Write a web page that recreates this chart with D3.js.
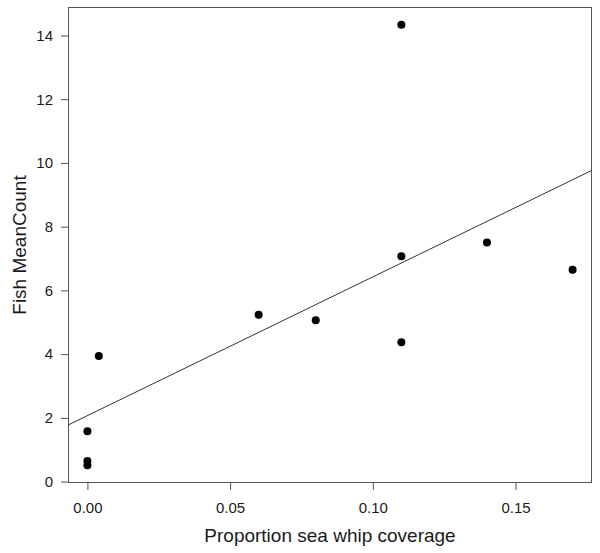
<!DOCTYPE html>
<html>
<head>
<meta charset="utf-8">
<script src="https://cdn.jsdelivr.net/npm/d3@7"></script>
<style>
  html, body { margin: 0; padding: 0; background: #fff; }
  svg { display: block; }
  text { font-family: "Liberation Sans", Arial, Helvetica, sans-serif; fill: #1a1a1a; }
</style>
</head>
<body>
<svg id="chart" width="600" height="553"></svg>
<script>
// Data
const coverage = [0, 0, 0, 0.004, 0.06, 0.08, 0.11, 0.11, 0.11, 0.14, 0.17];
const meanCount = [0.51, 0.65, 1.58, 3.94, 5.24, 5.06, 14.34, 7.07, 4.37, 7.5, 6.65];
const xTicks = [0, 0.05, 0.10, 0.15];
const yTicks = [0, 2, 4, 6, 8, 10, 12, 14];
const xTitle = "Proportion sea whip coverage";
const yTitle = "Fish MeanCount";

const W = 600, H = 553;
const box = { left: 68, top: 7, right: 592, bottom: 483 };

const svg = d3.select("#chart");

// R-style 4% axis extension
function pad(ext) { const r = ext[1] - ext[0]; return [ext[0] - 0.04 * r, ext[1] + 0.04 * r]; }
const x = d3.scaleLinear().domain(pad(d3.extent(coverage))).range([box.left, box.right]);
const y = d3.scaleLinear().domain(pad(d3.extent(meanCount))).range([box.bottom, box.top]);

// Least-squares fit
const mx = d3.mean(coverage), my = d3.mean(meanCount);
let sxy = 0, sxx = 0;
coverage.forEach((v, i) => { sxy += (v - mx) * (meanCount[i] - my); sxx += (v - mx) * (v - mx); });
const slope = sxy / sxx, intercept = my - slope * mx;

// Plot box
svg.append("rect")
  .attr("x", box.left + 0.5).attr("y", box.top + 0.5)
  .attr("width", box.right - box.left - 1).attr("height", box.bottom - box.top - 1)
  .attr("fill", "none").attr("stroke", "#555").attr("stroke-width", 1);

// Axes
const xAxis = svg.append("g")
  .attr("transform", `translate(0,${box.bottom})`)
  .call(d3.axisBottom(x).tickValues(xTicks).tickFormat(d3.format(".2f")).tickSize(7).tickPadding(12));
const yAxis = svg.append("g")
  .attr("transform", `translate(${box.left},0)`)
  .call(d3.axisLeft(y).tickValues(yTicks).tickFormat(d3.format("d")).tickSize(7).tickPadding(8));
[xAxis, yAxis].forEach(g => {
  g.select(".domain").remove();
  g.selectAll(".tick line").attr("stroke", "#555");
  g.selectAll(".tick text").attr("font-size", 15).attr("fill", "#1a1a1a")
    .style("font-family", '"Liberation Sans", Arial, sans-serif');
});

// Regression line clipped to the box
svg.append("defs").append("clipPath").attr("id", "clip")
  .append("rect").attr("x", box.left).attr("y", box.top)
  .attr("width", box.right - box.left).attr("height", box.bottom - box.top);
const xd = x.domain();
svg.append("line")
  .attr("clip-path", "url(#clip)")
  .attr("x1", x(xd[0])).attr("y1", y(intercept + slope * xd[0]))
  .attr("x2", x(xd[1])).attr("y2", y(intercept + slope * xd[1]))
  .attr("stroke", "#333").attr("stroke-width", 1);

// Points
svg.append("g").selectAll("circle")
  .data(coverage.map((v, i) => [v, meanCount[i]]))
  .join("circle")
  .attr("cx", d => x(d[0])).attr("cy", d => y(d[1]))
  .attr("r", 4).attr("fill", "#000");

// Titles
svg.append("text")
  .attr("x", (box.left + box.right) / 2).attr("y", 542)
  .attr("text-anchor", "middle").attr("font-size", 19)
  .text(xTitle);
svg.append("text")
  .attr("transform", `translate(26,${(box.top + box.bottom) / 2}) rotate(-90)`)
  .attr("text-anchor", "middle").attr("font-size", 19)
  .text(yTitle);
</script>
</body>
</html>
